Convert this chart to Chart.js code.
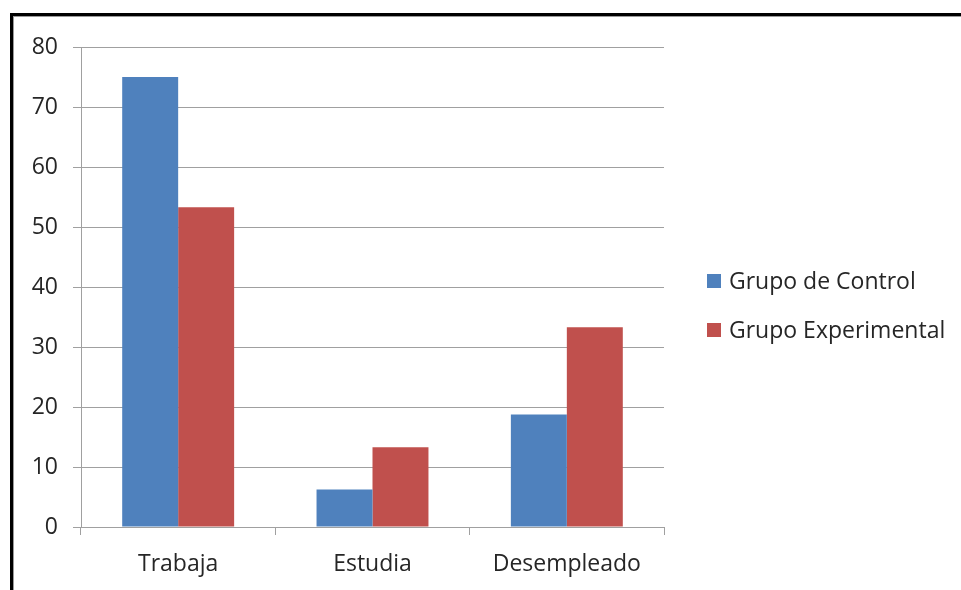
<!DOCTYPE html>
<html>
<head>
<meta charset="utf-8">
<script src="https://cdn.jsdelivr.net/npm/chart.js@4.4.1/dist/chart.umd.min.js"></script>
<style>
  html, body { margin: 0; padding: 0; background: #fff; }
  body { width: 961px; height: 590px; position: relative; overflow: hidden; }
  #frame { position: absolute; left: 10px; top: 13px; right: -10px; bottom: -10px;
           border-top: 3px solid #000; border-left: 3px solid #000; }
  #frame2 { position: absolute; left: 13px; top: 16px; right: -10px; bottom: -10px;
           border-top: 1px solid #9a9a9a; border-left: 1px solid #9a9a9a; }
  #wrap { position: absolute; left: 0; top: 0; width: 961px; height: 590px; }
</style>
</head>
<body>
<div id="frame"></div>
<div id="frame2"></div>
<div id="wrap"><canvas id="c" width="961" height="590"></canvas></div>
<script>
const categories = ["Trabaja", "Estudia", "Desempleado"];
const seriesNames = ["Grupo de Control", "Grupo Experimental"];
const controlValues = [75, 6.25, 18.75];
const experimentalValues = [53.3, 13.3, 33.3];
const yTicks = [0, 10, 20, 30, 40, 50, 60, 70, 80];

const colors = ["#4F81BD", "#C0504D"];
const FONT = "'Open Sans', sans-serif";
const FS = 23;
const TXT = "#262626";
const GRID = "#a0a0a0";

const legendPlugin = {
  id: "customLegend",
  afterDraw(chart) {
    const ctx = chart.ctx;
    ctx.save();
    ctx.font = FS + "px " + FONT;
    ctx.textBaseline = "middle";
    ctx.textAlign = "left";
    const ys = [281, 330];
    chart.data.datasets.forEach((ds, i) => {
      ctx.fillStyle = ds.backgroundColor;
      ctx.fillRect(707, ys[i] - 7, 14, 14);
      ctx.fillStyle = TXT;
      ctx.fillText(ds.label, 729, ys[i] + 1);
    });
    ctx.restore();
  }
};

new Chart(document.getElementById("c"), {
  type: "bar",
  data: {
    labels: categories,
    datasets: [
      { label: seriesNames[0], data: controlValues, backgroundColor: colors[0],
        categoryPercentage: 0.576, barPercentage: 1.0 },
      { label: seriesNames[1], data: experimentalValues, backgroundColor: colors[1],
        categoryPercentage: 0.576, barPercentage: 1.0 }
    ]
  },
  options: {
    responsive: false,
    animation: false,
    devicePixelRatio: 1,
    layout: { padding: { left: 0, top: 47, right: 961 - 664, bottom: 0 } },
    plugins: { legend: { display: false }, tooltip: { enabled: false } },
    scales: {
      x: {
        afterFit(scale) { scale.height = 590 - 527; },
        grid: { offset: true, drawOnChartArea: false, drawTicks: true, tickLength: 8, color: GRID, lineWidth: 1 },
        border: { display: true, color: GRID, width: 1 },
        ticks: { color: TXT, font: { family: FONT, size: FS }, padding: 16 }
      },
      y: {
        min: 0, max: 80,
        afterFit(scale) { scale.width = 81; },
        afterBuildTicks(scale) { scale.ticks = yTicks.map(v => ({ value: v })); },
        grid: { color: GRID, lineWidth: 1, tickLength: 8, drawTicks: true },
        border: { display: true, color: GRID, width: 1 },
        ticks: { color: TXT, font: { family: FONT, size: FS }, padding: 15 }
      }
    }
  },
  plugins: [legendPlugin]
});
</script>
</body>
</html>
